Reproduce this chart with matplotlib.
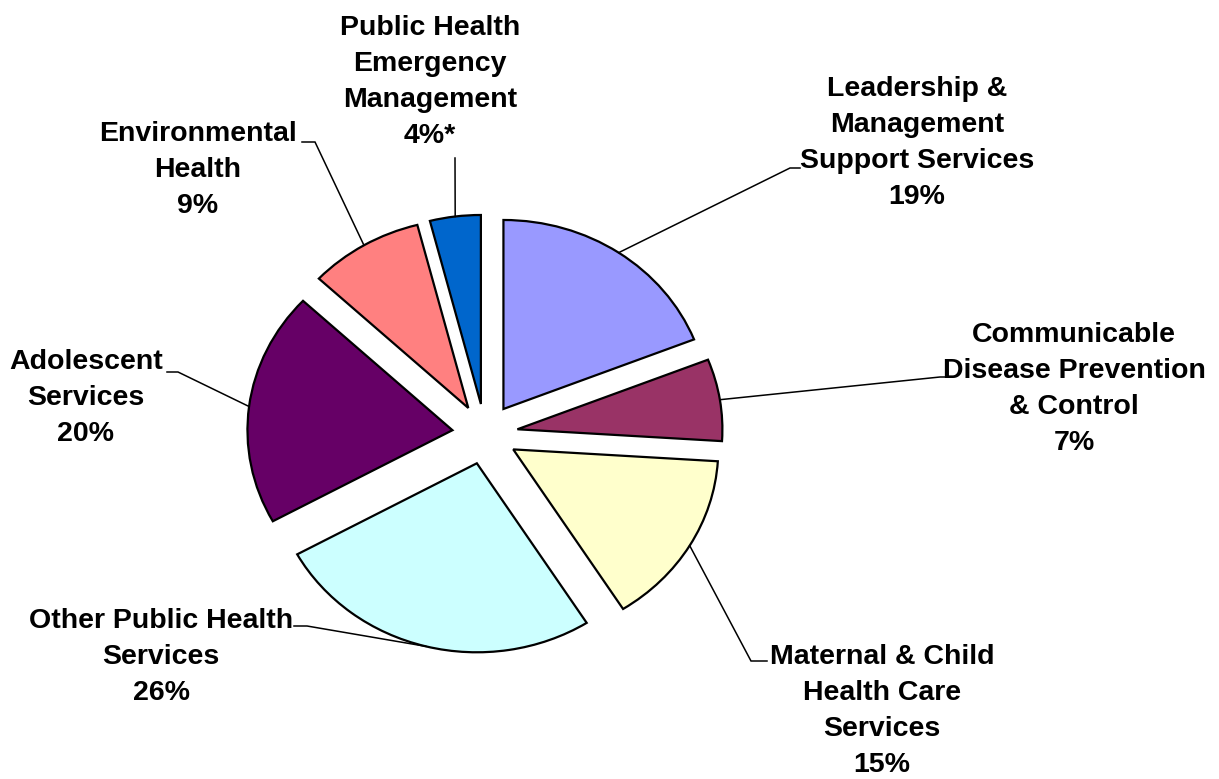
import matplotlib
matplotlib.use("Agg")
import matplotlib.pyplot as plt
import numpy as np

plt.rcParams["font.family"] = ["Liberation Sans", "DejaVu Sans"]

categories = [
    "Leadership &\nManagement\nSupport Services",
    "Communicable\nDisease Prevention\n& Control",
    "Maternal & Child\nHealth Care\nServices",
    "Other Public Health\nServices",
    "Adolescent\nServices",
    "Environmental\nHealth",
    "Public Health\nEmergency\nManagement",
]
shares = [19, 7, 15, 26, 20, 9, 4]
pct_labels = ["19%", "7%", "15%", "26%", "20%", "9%", "4%*"]
colors = ["#9999FF", "#993366", "#FFFFCC", "#CCFFFF", "#660066", "#FF8080", "#0066CC"]

W, H = 1219, 779
CX, CY = 485, 434      # pie centre in pixels
RX, RY = 205, 189      # pie radius in pixels (slightly squashed)


def px(x, y):
    """pixel position -> data coords of the full-figure axes"""
    return (x - CX) / RX, (CY - y) / RY


# label block centre, leader knee, end of the short horizontal stub (pixels)
label_pos = [(917, 143), (1074, 389), (882, 711), (161, 657), (86, 398), (198, 170), (430, 82)]
knees = [(790, 168), (940, 377), (751, 661), (307, 626), (178, 372), (315, 142), (455, 158)]
stubs = [(800, 168), (948, 377), (767, 661), (294, 626), (167, 372), (302, 142), (455, 158)]

fig = plt.figure(figsize=(W / 100, H / 100), dpi=100, facecolor="white")
ax = fig.add_axes([0, 0, 1, 1])

wedges, _ = ax.pie(
    shares, colors=colors, startangle=90, counterclock=False,
    explode=[0.16] * len(shares),
    wedgeprops=dict(edgecolor="black", linewidth=1.6),
)
ax.set_aspect("auto")
ax.set_xlim(px(0, 0)[0], px(W, 0)[0])
ax.set_ylim(px(0, H)[1], px(0, 0)[1])
ax.axis("off")

for w, cat, pct, lp, kn, st in zip(wedges, categories, pct_labels, label_pos, knees, stubs):
    mid = np.deg2rad((w.theta1 + w.theta2) / 2)
    x0 = w.center[0] + w.r * np.cos(mid)
    y0 = w.center[1] + w.r * np.sin(mid)
    kx, ky = px(*kn)
    sx, sy = px(*st)
    ax.plot([x0, kx, sx], [y0, ky, sy], color="black", lw=1.1,
            solid_joinstyle="miter", zorder=3)
    tx, ty = px(*lp)
    ax.text(tx, ty, f"{cat}\n{pct}", ha="center", va="center",
            fontsize=20.5, fontweight="bold", linespacing=1.5)

fig.savefig("out.png", dpi=100, facecolor="white")
